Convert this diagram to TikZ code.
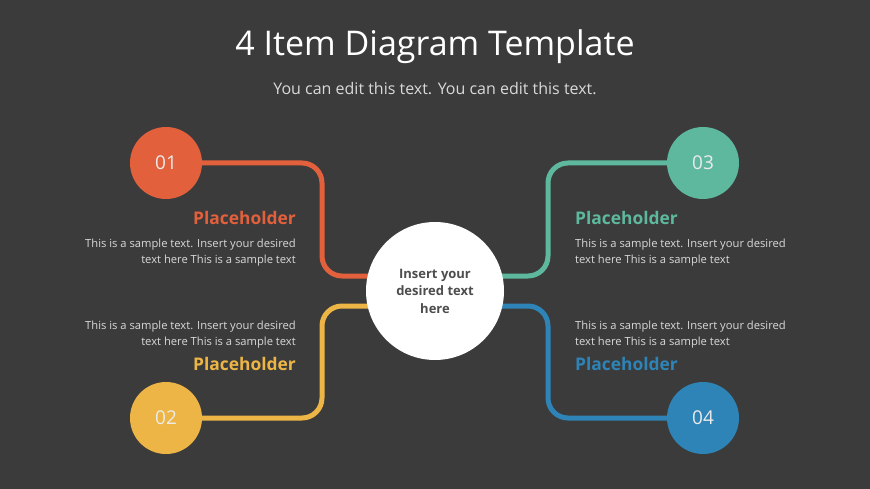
\documentclass[tikz,border=0pt]{standalone}
\usepackage{fontspec}
\setmainfont{Open Sans}
\definecolor{bg}{HTML}{3B3B3B}
\definecolor{cA}{HTML}{E2603C}
\definecolor{cB}{HTML}{EDB546}
\definecolor{cC}{HTML}{5DB89D}
\definecolor{cD}{HTML}{2E84B6}
\definecolor{txt}{HTML}{D9D9D9}
\definecolor{ctr}{HTML}{4D4D4D}
\tikzset{
  num/.style={circle, minimum size=72pt, inner sep=0pt, text=white!92!black, font=\fontsize{19}{19}\selectfont},
  conn/.style={line width=5pt, rounded corners=20pt},
  ph/.style={font=\fontsize{17.4}{17.4}\selectfont\bfseries, inner sep=0pt},
  body/.style={font=\fontsize{11.2}{16}\selectfont, text=txt, inner sep=0pt},
}
\begin{document}
\begin{tikzpicture}[x=1pt,y=-1pt]
\fill[bg] (0,0) rectangle (870,489);
\useasboundingbox (0,0) rectangle (870,489);

\node[font=\fontsize{34}{34}\selectfont, text=white] (title) at (435,47) {4 Item Diagram Template};
\node[font=\fontsize{16}{16}\selectfont, text=txt] (sub) at (435,89) {You can edit this text. You can edit this text.};

\node[circle, minimum size=138pt, inner sep=0pt] (cc) at (435,291) {};
\node[num] (c1) at (166,163) {};
\node[num] (c2) at (166,418) {};
\node[num] (c3) at (703,163) {};
\node[num] (c4) at (703,418) {};

\coordinate (j1) at (322,276);
\coordinate (j2) at (322,306);
\coordinate (j3) at (548,276);
\coordinate (j4) at (548,306);

\draw[conn, cA] (c1.center) -| (j1) -- (j1 -| cc.center);
\draw[conn, cB] (c2.center) -| (j2) -- (j2 -| cc.center);
\draw[conn, cC] (c3.center) -| (j3) -- (j3 -| cc.center);
\draw[conn, cD] (c4.center) -| (j4) -- (j4 -| cc.center);

\node[num, fill=cA] at (c1) {01};
\node[num, fill=cB] at (c2) {02};
\node[num, fill=cC] at (c3) {03};
\node[num, fill=cD] at (c4) {04};

\node[circle, minimum size=138pt, inner sep=0pt, fill=white, text=ctr, align=center,
  font=\fontsize{13}{17.5}\selectfont\bfseries] at (cc) {Insert your\\desired text\\here};

\node[ph, text=cA, anchor=east] (p1) at (296,218) {Placeholder};
\node[body, anchor=east, align=right] (b1) at (296,253) {This is a sample text. Insert your desired\\text here This is a sample text};

\node[body, anchor=east, align=right] (b2) at (296,335) {This is a sample text. Insert your desired\\text here This is a sample text};
\node[ph, text=cB, anchor=east] (p2) at (296,364) {Placeholder};

\node[ph, text=cC, anchor=west] (p3) at (575,218) {Placeholder};
\node[body, anchor=west, align=left] (b3) at (575,253) {This is a sample text. Insert your desired\\text here This is a sample text};

\node[body, anchor=west, align=left] (b4) at (575,335) {This is a sample text. Insert your desired\\text here This is a sample text};
\node[ph, text=cD, anchor=west] (p4) at (575,364) {Placeholder};
\end{tikzpicture}
\end{document}
